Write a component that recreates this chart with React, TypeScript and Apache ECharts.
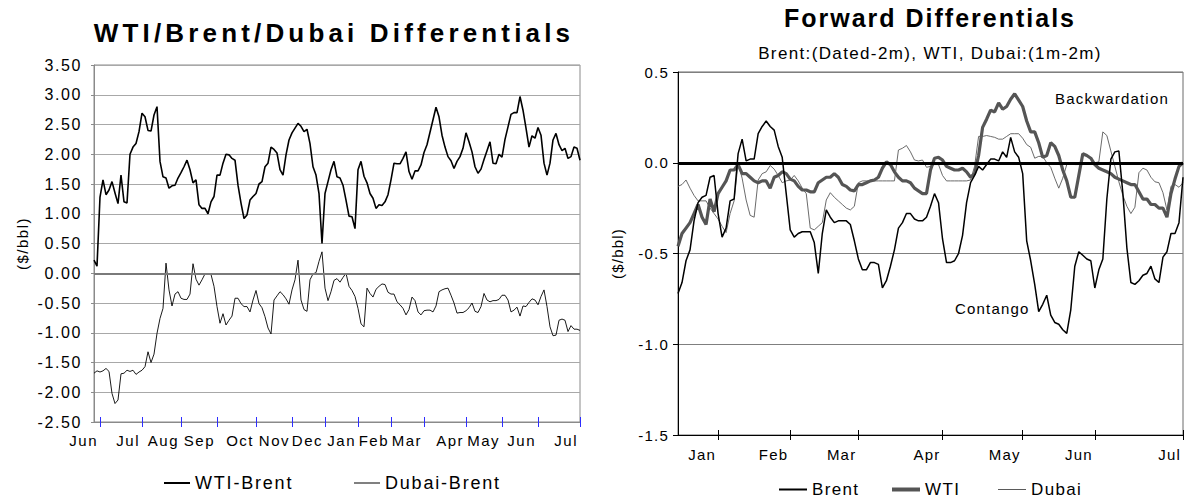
import React, { useEffect, useRef } from 'react';
import * as echarts from 'echarts';

// ---------- Left chart data (daily, Jun .. Jul of following year) ----------
const WTI_BRENT = [
  0.22, 0.12, 1.28, 1.57, 1.32, 1.40, 1.54, 1.35, 1.17, 1.65,
  1.20, 1.18, 2.00, 2.12, 2.18, 2.38, 2.69, 2.63, 2.40, 2.39,
  2.66, 2.80, 1.88, 1.62, 1.60, 1.43, 1.47, 1.48, 1.60, 1.69,
  1.79, 1.90, 1.74, 1.52, 1.57, 1.15, 1.09, 1.09, 1.00, 1.20,
  1.29, 1.65, 1.65, 1.85, 2.00, 1.99, 1.93, 1.90, 1.48, 1.18,
  0.92, 0.98, 1.23, 1.29, 1.34, 1.50, 1.54, 1.79, 1.85, 2.12,
  2.08, 2.02, 1.74, 1.65, 1.99, 2.24, 2.36, 2.44, 2.52, 2.47,
  2.38, 2.42, 2.18, 1.79, 1.65, 1.34, 0.50, 1.34, 1.54, 1.74,
  1.88, 1.62, 1.60, 1.48, 1.23, 0.96, 0.95, 0.75, 1.74, 1.88,
  1.63, 1.52, 1.34, 1.26, 1.09, 1.15, 1.14, 1.20, 1.32, 1.57,
  1.85, 1.84, 1.84, 1.93, 2.04, 1.71, 1.58, 1.72, 1.72, 1.82,
  2.03, 2.16, 2.37, 2.58, 2.79, 2.63, 2.32, 2.12, 1.96, 1.89,
  1.76, 1.88, 1.96, 2.10, 2.36, 2.21, 2.04, 1.79, 1.68, 1.75,
  1.91, 2.06, 2.21, 1.85, 1.84, 2.00, 1.95, 2.25, 2.46, 2.67,
  2.70, 2.70, 2.97, 2.74, 2.44, 2.12, 2.31, 2.27, 2.45, 2.32,
  1.85, 1.65, 1.85, 2.24, 2.35, 2.16, 2.06, 2.10, 1.93, 1.96,
  2.12, 2.10, 1.90,
];
const DUBAI_BRENT = [
  -1.68, -1.64, -1.66, -1.64, -1.60, -1.65, -2.02, -2.19, -2.13, -1.69,
  -1.68, -1.63, -1.65, -1.63, -1.70, -1.66, -1.63, -1.57, -1.32, -1.50,
  -1.36, -1.01, -0.76, -0.59, 0.17, -0.28, -0.55, -0.35, -0.31, -0.42,
  -0.44, -0.44, -0.35, 0.16, -0.10, -0.20, -0.11, -0.01, -0.01, -0.02,
  -0.22, -0.56, -0.84, -0.68, -0.87, -0.79, -0.72, -0.42, -0.42, -0.51,
  -0.56, -0.56, -0.65, -0.45, -0.29, -0.51, -0.58, -0.73, -0.92, -1.02,
  -0.45, -0.38, -0.31, -0.36, -0.43, -0.52, -0.28, -0.11, 0.22, -0.45,
  -0.61, -0.64, -0.11, -0.01, 0.01, 0.20, 0.36, -0.25, -0.46, -0.31,
  -0.12, -0.09, -0.15, -0.07, 0.00, -0.22, -0.29, -0.39, -0.59, -0.85,
  -0.90, -0.25, -0.34, -0.40, -0.27, -0.22, -0.18, -0.19, -0.32, -0.35,
  -0.35, -0.48, -0.53, -0.59, -0.70, -0.61, -0.40, -0.46, -0.65, -0.70,
  -0.63, -0.62, -0.62, -0.65, -0.55, -0.31, -0.28, -0.26, -0.25, -0.37,
  -0.50, -0.67, -0.66, -0.66, -0.63, -0.58, -0.50, -0.64, -0.66, -0.56,
  -0.34, -0.45, -0.48, -0.46, -0.46, -0.44, -0.37, -0.37, -0.45, -0.65,
  -0.62, -0.57, -0.72, -0.55, -0.56, -0.49, -0.43, -0.45, -0.53, -0.39,
  -0.28, -0.56, -0.90, -1.05, -1.04, -0.79, -0.77, -0.79, -0.98, -0.88,
  -0.94, -0.94, -0.96,
];
const LEFT_MONTHS = ['Jun', 'Jul', 'Aug', 'Sep', 'Oct', 'Nov', 'Dec', 'Jan', 'Feb', 'Mar', 'Apr', 'May', 'Jun', 'Jul'];
const LEFT_TICK_DAY = [2, 16, 29, 41, 54, 66, 77, 88, 99, 110, 124, 136, 148, 162];
const LEFT_Y_MIN = -2.5;
const LEFT_Y_MAX = 3.5;
const LEFT_Y_STEP = 0.5;

// ---------- Right chart data (daily, Jan .. Jul) ----------
const FWD_BRENT = [
  -0.72, -0.66, -0.54, -0.48, -0.32, -0.22, -0.19, -0.18, -0.08, -0.07,
  -0.28, -0.41, -0.36, -0.21, -0.20, 0.05, 0.13, 0.01, 0.02, 0.02,
  0.16, 0.20, 0.23, 0.20, 0.18, 0.09, 0.03, -0.17, -0.37, -0.41,
  -0.39, -0.38, -0.38, -0.38, -0.44, -0.61, -0.39, -0.26, -0.30, -0.33,
  -0.32, -0.32, -0.32, -0.34, -0.43, -0.53, -0.59, -0.59, -0.55, -0.55,
  -0.56, -0.69, -0.65, -0.57, -0.48, -0.36, -0.33, -0.28, -0.28, -0.31,
  -0.32, -0.32, -0.30, -0.24, -0.17, -0.22, -0.42, -0.55, -0.55, -0.54,
  -0.50, -0.40, -0.22, -0.11, -0.07, -0.02, -0.04, -0.01, 0.02, 0.02,
  0.01, 0.06, 0.03, 0.14, 0.06, 0.03, -0.06, -0.43, -0.54, -0.67,
  -0.82, -0.78, -0.73, -0.84, -0.88, -0.89, -0.92, -0.94, -0.81, -0.57,
  -0.49, -0.51, -0.53, -0.54, -0.69, -0.59, -0.53, -0.20, 0.02, 0.06,
  0.065, -0.17, -0.47, -0.66, -0.67, -0.65, -0.62, -0.61, -0.57, -0.64,
  -0.66, -0.52, -0.49, -0.39, -0.39, -0.33, -0.08,
];
const FWD_WTI = [
  -0.46, -0.39, -0.36, -0.33, -0.28, -0.23, -0.30, -0.34, -0.20, -0.27,
  -0.17, -0.135, -0.10, -0.04, -0.04, -0.01, -0.06, -0.06, -0.08, -0.10,
  -0.11, -0.10, -0.10, -0.14, -0.08, -0.07, -0.05, -0.06, -0.09, -0.10,
  -0.13, -0.15, -0.15, -0.16, -0.16, -0.11, -0.095, -0.08, -0.08, -0.06,
  -0.08, -0.12, -0.13, -0.15, -0.155, -0.12, -0.12, -0.11, -0.10, -0.095,
  -0.08, -0.03, 0.005, -0.01, -0.05, -0.08, -0.10, -0.10, -0.11, -0.14,
  -0.155, -0.17, -0.17, -0.04, 0.025, 0.03, 0.015, -0.02, -0.03, -0.04,
  -0.04, -0.03, -0.05, -0.08, -0.06, 0.04, 0.195, 0.24, 0.29, 0.28,
  0.33, 0.295, 0.31, 0.35, 0.38, 0.345, 0.31, 0.23, 0.17, 0.17,
  0.11, 0.03, 0.04, 0.11, 0.09, 0.04, -0.04, -0.10, -0.19, -0.19,
  -0.07, 0.05, 0.04, 0.025, -0.01, -0.03, -0.04, -0.05, -0.06, -0.08,
  -0.09, -0.10, -0.11, -0.12, -0.12, -0.16, -0.20, -0.20, -0.23, -0.23,
  -0.25, -0.25, -0.30, -0.17, -0.09, -0.02, 0.00,
];
const FWD_DUBAI = [
  -0.13, -0.12, -0.095, -0.14, -0.18, -0.21, -0.21, -0.21, -0.25, -0.28,
  -0.31, -0.35, -0.385, -0.28, -0.21, 0.00, -0.085, -0.205, -0.29, -0.30,
  -0.095, -0.06, -0.05, -0.015, -0.035, -0.07, -0.11, -0.10, -0.095, -0.07,
  -0.10, -0.14, -0.17, -0.36, -0.37, -0.35, -0.33, -0.205, -0.165, -0.19,
  -0.21, -0.23, -0.25, -0.26, -0.24, -0.11, -0.10, -0.10, -0.10, -0.10,
  -0.10, -0.10, -0.10, -0.10, -0.10, 0.07, 0.08, 0.095, 0.06, 0.015,
  0.01, 0.015, -0.025, -0.02, -0.01, -0.01, -0.07, -0.10, -0.10, -0.10,
  -0.10, -0.10, -0.10, -0.095, -0.02, 0.145, 0.145, 0.15, 0.145, 0.14,
  0.13, 0.13, 0.145, 0.16, 0.16, 0.16, 0.135, 0.10, 0.085, 0.025,
  0.035, 0.035, 0.0, -0.025, -0.085, -0.14, -0.085, -0.01, -0.005, -0.01,
  -0.01, 0.0, 0.0, 0.0, 0.0, 0.005, 0.17, 0.15, 0.065, -0.02,
  -0.105, -0.18, -0.24, -0.28, -0.245, -0.055, -0.03, -0.04, -0.08, -0.105,
  -0.11, -0.165, -0.26, -0.13, -0.12, -0.135, -0.11,
];
const RIGHT_MONTHS = ['Jan', 'Feb', 'Mar', 'Apr', 'May', 'Jun', 'Jul'];
const RIGHT_TICK_DAY = [10, 28, 45, 66, 86, 104, 126];
const RIGHT_Y_MIN = -1.5;
const RIGHT_Y_MAX = 0.5;
const RIGHT_Y_STEP = 0.5;

const FONT = '"Liberation Sans", Arial, Helvetica, sans-serif';

function buildLeft(): any {
  const cats = WTI_BRENT.map((_, i) => String(i));
  const isTick = (i: number) => LEFT_TICK_DAY.indexOf(i) >= 0;
  const monthOf = (i: number) => {
    const k = LEFT_TICK_DAY.indexOf(i);
    return k >= 0 ? LEFT_MONTHS[k] : '';
  };
  const gray = '#8a8a8a';
  const blue = '#2d2dff';
  const legendBase = { top: 474, padding: 0, itemWidth: 26, icon: 'rect', selectedMode: false, textStyle: { fontSize: 18, color: '#000' } };
  return {
    animation: false,
    textStyle: { fontFamily: FONT },
    grid: { left: 94, top: 65, width: 486, height: 357, show: true, borderColor: gray, borderWidth: 1 },
    graphic: [
      {
        type: 'text', x: 334, y: 33, silent: true,
        style: { text: 'WTI/Brent/Dubai Differentials', font: `bold 26px ${FONT}`, fill: '#000', align: 'center', verticalAlign: 'middle' },
      },
    ],
    legend: [
      { ...legendBase, data: ['WTI-Brent'], left: 164, itemHeight: 2 },
      { ...legendBase, data: ['Dubai-Brent'], left: 354, itemHeight: 1 },
    ],
    xAxis: [
      {
        type: 'category', data: cats, boundaryGap: false, position: 'bottom',
        axisLine: { onZero: false, lineStyle: { color: gray, width: 1 } },
        axisTick: { show: true, inside: true, length: 5, interval: (i: number) => isTick(i), lineStyle: { color: blue, width: 1 } },
        axisLabel: {
          interval: (i: number) => isTick(i), formatter: (_v: string, i: number) => monthOf(i),
          align: 'right', margin: 11, fontSize: 15, color: '#000', padding: [0, 2, 0, 0],
        },
        splitLine: { show: false },
      },
      {
        type: 'category', data: cats, boundaryGap: false, position: 'bottom',
        axisLine: { show: false, onZero: false },
        axisTick: { show: true, inside: false, length: 5, interval: (i: number) => isTick(i), lineStyle: { color: blue, width: 1 } },
        axisLabel: { show: false },
        splitLine: { show: false },
      },
    ],
    yAxis: {
      type: 'value', min: LEFT_Y_MIN, max: LEFT_Y_MAX, interval: LEFT_Y_STEP,
      axisLine: { show: true, lineStyle: { color: gray } },
      axisTick: { show: true, length: 3, lineStyle: { color: gray } },
      axisLabel: { formatter: (v: number) => v.toFixed(2), fontSize: 16, color: '#000', margin: 12 },
      splitLine: { show: true, lineStyle: { color: '#a8a8a8', width: 1 } },
      name: '($/bbl)', nameLocation: 'middle', nameGap: 64, nameTextStyle: { fontSize: 15, color: '#000' },
    },
    series: [
      {
        name: 'Dubai-Brent', type: 'line', data: DUBAI_BRENT, symbol: 'none',
        lineStyle: { color: '#000', width: 0.9 }, itemStyle: { color: '#000' }, emphasis: { disabled: true },
        markLine: {
          silent: true, symbol: ['none', 'none'], label: { show: false },
          lineStyle: { color: '#7a7a7a', width: 2, type: 'solid' }, data: [{ yAxis: 0 }],
        },
      },
      {
        name: 'WTI-Brent', type: 'line', data: WTI_BRENT, symbol: 'none',
        lineStyle: { color: '#000', width: 1.6 }, itemStyle: { color: '#000' }, emphasis: { disabled: true },
      },
    ],
  };
}

function buildRight(): any {
  const cats = FWD_BRENT.map((_, i) => String(i));
  const isTick = (i: number) => RIGHT_TICK_DAY.indexOf(i) >= 0;
  const monthOf = (i: number) => {
    const k = RIGHT_TICK_DAY.indexOf(i);
    return k >= 0 ? RIGHT_MONTHS[k] : '';
  };
  const legendBase = { top: 481, padding: 0, itemWidth: 28, icon: 'rect', selectedMode: false, textStyle: { fontSize: 17, color: '#000' } };
  return {
    animation: false,
    textStyle: { fontFamily: FONT },
    grid: { left: 86, top: 72, width: 505, height: 363, show: true, borderColor: '#6a6a6a', borderWidth: 1 },
    graphic: [
      {
        type: 'text', x: 338, y: 18, silent: true,
        style: { text: 'Forward Differentials', font: `bold 25px ${FONT}`, fill: '#000', align: 'center', verticalAlign: 'middle' },
      },
      {
        type: 'text', x: 338, y: 53, silent: true,
        style: { text: 'Brent:(Dated-2m), WTI, Dubai:(1m-2m)', font: `17px ${FONT}`, fill: '#000', align: 'center', verticalAlign: 'middle' },
      },
      {
        type: 'text', x: 463, y: 98, silent: true,
        style: { text: 'Backwardation', font: `15px ${FONT}`, fill: '#000', align: 'left', verticalAlign: 'middle' },
      },
      {
        type: 'text', x: 363, y: 308, silent: true,
        style: { text: 'Contango', font: `15px ${FONT}`, fill: '#000', align: 'left', verticalAlign: 'middle' },
      },
    ],
    legend: [
      { ...legendBase, data: ['Brent'], left: 187, itemHeight: 2 },
      { ...legendBase, data: ['WTI'], left: 300, itemHeight: 4 },
      { ...legendBase, data: ['Dubai'], left: 406, itemHeight: 1 },
    ],
    xAxis: [
      {
        type: 'category', data: cats, boundaryGap: false, position: 'bottom',
        axisLine: { onZero: false, lineStyle: { color: '#000', width: 1 } },
        axisTick: { show: true, inside: true, length: 5, interval: (i: number) => isTick(i), lineStyle: { color: '#000', width: 1 } },
        axisLabel: {
          interval: (i: number) => isTick(i), formatter: (_v: string, i: number) => monthOf(i),
          align: 'right', margin: 12, fontSize: 15, color: '#000', padding: [0, 2, 0, 0],
        },
        splitLine: { show: false },
      },
      {
        type: 'category', data: cats, boundaryGap: false, position: 'bottom',
        axisLine: { show: false, onZero: false },
        axisTick: { show: true, inside: false, length: 5, interval: (i: number) => isTick(i), lineStyle: { color: '#000', width: 1 } },
        axisLabel: { show: false },
        splitLine: { show: false },
      },
    ],
    yAxis: {
      type: 'value', min: RIGHT_Y_MIN, max: RIGHT_Y_MAX, interval: RIGHT_Y_STEP,
      axisLine: { show: true, lineStyle: { color: '#000' } },
      axisTick: { show: true, length: 5, lineStyle: { color: '#000' } },
      axisLabel: { formatter: (v: number) => v.toFixed(1), fontSize: 15, color: '#000', margin: 9 },
      splitLine: { show: true, lineStyle: { color: '#7f7f7f', width: 1 } },
      name: '($/bbl)', nameLocation: 'middle', nameGap: 53, nameTextStyle: { fontSize: 15, color: '#000' },
    },
    series: [
      {
        name: 'WTI', type: 'line', data: FWD_WTI, symbol: 'none',
        lineStyle: { color: '#555555', width: 3.2 }, itemStyle: { color: '#555555' }, emphasis: { disabled: true },
      },
      {
        name: 'Dubai', type: 'line', data: FWD_DUBAI, symbol: 'none',
        lineStyle: { color: '#5a5a5a', width: 0.9 }, itemStyle: { color: '#5a5a5a' }, emphasis: { disabled: true },
      },
      {
        name: 'Brent', type: 'line', data: FWD_BRENT, symbol: 'none',
        lineStyle: { color: '#000', width: 1.5 }, itemStyle: { color: '#000' }, emphasis: { disabled: true },
        markLine: {
          silent: true, symbol: ['none', 'none'], label: { show: false },
          lineStyle: { color: '#000', width: 3, type: 'solid' }, data: [{ yAxis: 0 }],
        },
      },
    ],
  };
}

const CSS = `
.lc text { letter-spacing: 0.1em; }
.lc text[style*="bold"] { letter-spacing: 0.16em; }
.rc text { letter-spacing: 0.08em; }
`;

export default function App() {
  const leftRef = useRef<HTMLDivElement>(null);
  const rightRef = useRef<HTMLDivElement>(null);

  useEffect(() => {
    const l = echarts.init(leftRef.current as HTMLDivElement, undefined, { renderer: 'svg' });
    const r = echarts.init(rightRef.current as HTMLDivElement, undefined, { renderer: 'svg' });
    l.setOption(buildLeft());
    r.setOption(buildRight());
    return () => {
      l.dispose();
      r.dispose();
    };
  }, []);

  return (
    <div style={{ position: 'absolute', left: 0, top: 0, width: 1185, height: 499, background: '#fff', overflow: 'hidden' }}>
      <style>{CSS}</style>
      <div ref={leftRef} className="lc" style={{ position: 'absolute', left: 0, top: 0, width: 592, height: 499 }} />
      <div ref={rightRef} className="rc" style={{ position: 'absolute', left: 592, top: 0, width: 593, height: 499 }} />
    </div>
  );
}
